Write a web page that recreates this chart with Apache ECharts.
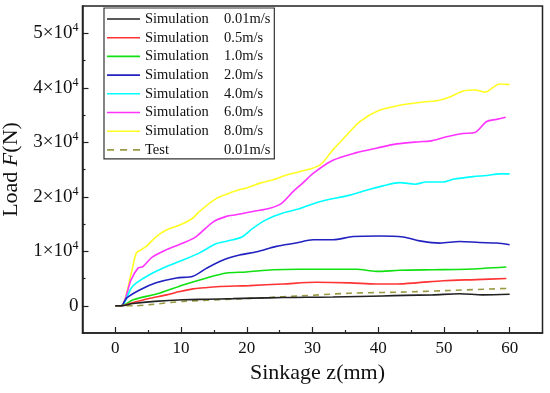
<!DOCTYPE html>
<html>
<head>
<meta charset="utf-8">
<script src="https://cdn.jsdelivr.net/npm/echarts@6/dist/echarts.min.js"></script>
<style>html,body{margin:0;padding:0;background:#fff}#c{width:550px;height:393px}</style>
</head>
<body>
<div id="c"></div>
<script>
// ---- data (z in mm, F in N) ----
const legendKinds = ['Simulation','Simulation','Simulation','Simulation','Simulation','Simulation','Simulation','Test'];
const legendSpeeds = ['0.01m/s','0.5m/s','1.0m/s','2.0m/s','4.0m/s','6.0m/s','8.0m/s','0.01m/s'];
const xTicks = [0,10,20,30,40,50,60];
const yTicks = [0,10000,20000,30000,40000,50000];

const zS001 = [0,0.9,2.7,6,10.3,14,17.9,21,25.5,29,33.1,37,40.7,44,48.3,52.4,55.9,60];
const fS001 = [0,0,400,800,1100,1200,1300,1400,1500,1550,1600,1700,1800,1900,2000,2200,2000,2100];

const zS05 = [0,0.9,2.7,5,7.8,9.8,11.8,13.5,15.4,20.4,25.5,30.6,35.7,39.7,42.8,45.8,49.9,54.9,59.5];
const fS05 = [0,0,600,1300,2000,2600,3100,3300,3500,3700,4000,4300,4200,4000,4000,4200,4600,4800,5000];

const zS10 = [0,0.9,2.7,6.7,10.3,13.9,16.9,19.9,24,28,33.1,36.7,39.7,43.3,48.3,53.4,59.5];
const fS10 = [0,0,1100,2300,3800,5100,6000,6200,6600,6700,6700,6700,6300,6500,6600,6700,7100];

const zS20 = [0,0.9,1.7,3.7,6.2,9.3,11.8,13.9,16.4,18.9,21.5,24.5,27.5,30.1,33.1,36.2,40.2,43.8,46.3,49.4,52.4,55.4,58,60];
const fS20 = [0,0,1400,2900,4200,5100,5400,6900,8400,9300,9900,10900,11500,12100,12100,12700,12800,12600,11900,11500,11800,11600,11500,11200];

const zS40 = [0,0.9,2.4,3.2,5.2,7.8,10.3,12.8,15.4,17.9,19.4,20.9,23,25.5,28,31.1,35.7,38.2,40.7,43.3,45.6,47.3,49.9,51.4,54.4,56.5,58.5,60];
const fS40 = [0,0,3200,4200,5700,7200,8400,9700,11400,12100,12700,14200,15800,17000,17800,19100,20300,21200,22000,22600,22300,22700,22700,23200,23700,23900,24200,24200];

const zS60 = [0,0.9,2.4,3.45,4.2,5.7,7.8,10.3,12.3,14.9,16.9,18.4,20.9,23.5,25.3,27,28.5,30.1,33.1,36.7,39.7,42.8,46.3,47.8,50.4,52.9,54.7,56.5,58,59.4];
const fS60 = [0,0,4800,6900,7200,9000,10300,11500,12700,15400,16400,16700,17300,17900,18800,20900,22500,24300,26700,28100,28900,29700,30100,30200,31000,31600,31800,33800,34200,34600];

const zS80 = [0,0.9,2.43,3.2,3.96,4.7,6.24,7.76,9.8,11.8,12.8,15.4,17.9,20.4,22,24,26,28.05,31.1,33.1,35.2,37.2,40,43.3,46.8,48.9,50.9,52.9,54.7,56.2,58.5,60];
const fS80 = [0,0,6000,9700,10300,10900,12700,13900,14800,16100,17300,19700,20900,21800,22500,23100,24000,24600,25800,28600,31300,33800,35800,36800,37400,37600,38300,39400,39600,39200,40700,40600];

const zTest = [0,3,5.2,10.3,17.9,23,28.05,35.7,43.3,50.9,60];
const fTest = [0,0,200,800,1200,1500,1800,2300,2500,2800,3200];

const seriesZ = [zS001,zS05,zS10,zS20,zS40,zS60,zS80,zTest];
const seriesF = [fS001,fS05,fS10,fS20,fS40,fS60,fS80,fTest];
const colors = ['#222222','#ff3333','#11e011','#2222c0','#00ffff','#ff33ff','#ffff22','#9a9a44'];

const FONT = "'Liberation Serif','Times New Roman',serif";
const names = legendKinds.map((k,i)=>k+' '+legendSpeeds[i]);
const SOLID_ICON = 'path://M0,0H33V1.6H0Z';
const DASH_ICON = 'path://M0,0H7V1.6H0Z M13,0H20V1.6H13Z M26,0H33V1.6H26Z';

const series = seriesZ.map((zs,i)=>({
  name: names[i],
  type: 'line',
  xAxisIndex: 0, yAxisIndex: 0,
  symbol: 'none',
  smooth: 0.3,
  z: 10 - i,
  lineStyle: {color: colors[i], width: 1.6, type: i===7 ? [6,5] : 'solid'},
  itemStyle: {color: colors[i]},
  data: zs.map((z,j)=>[z, seriesF[i][j]])
}));

const chart = echarts.init(document.getElementById('c'), null, {renderer:'canvas'});
chart.setOption({
  backgroundColor: '#fff',
  animation: false,
  textStyle: {fontFamily: FONT},
  grid: {left: 82.5, right: 7.5, top: 6, bottom: 60, show: true, borderColor: '#222', borderWidth: 1.5, outerBoundsMode: 'none'},
  legend: {
    orient: 'vertical', left: 104, top: 8,
    data: names.map((n,i)=>({name: n, icon: i===7 ? DASH_ICON : SOLID_ICON})),
    itemWidth: 33, itemHeight: 10, itemGap: 2.7,
    borderColor: '#333', borderWidth: 1.2, padding: [3,4,1,3],
    backgroundColor: '#fff',
    formatter: function(n){ const i = names.indexOf(n); return '{a|'+legendKinds[i]+'}{b|'+legendSpeeds[i]+'}'; },
    textStyle: {fontFamily: FONT, fontSize: 14.5, color: '#111', lineHeight: 16,
      rich: {a: {width: 79, fontSize: 14.5, fontFamily: FONT, color: '#111'}, b: {fontSize: 14.5, fontFamily: FONT, color: '#111'}}}
  },
  xAxis: [{
    type: 'value', min: -5, max: 65, position: 'bottom',
    splitLine: {show: false},
    axisLine: {show: true, onZero: false, lineStyle: {color: '#222', width: 1.5}},
    axisTick: {show: true, inside: true, length: 6, customValues: xTicks, lineStyle: {color: '#222', width: 1.2}},
    axisLabel: {customValues: xTicks, fontFamily: FONT, fontSize: 17, color: '#111', margin: 7},
    name: 'Sinkage z(mm)', nameLocation: 'middle', nameGap: 28,
    nameTextStyle: {fontFamily: FONT, fontSize: 22, color: '#111', padding: [0,0,0,10]}
  },{
    type: 'value', min: -5, max: 65, position: 'bottom',
    splitLine: {show: false},
    axisLine: {show: false, onZero: false},
    axisTick: {show: true, inside: true, length: 3, customValues: [5,15,25,35,45,55], lineStyle: {color: '#222', width: 1.2}},
    axisLabel: {show: false}
  }],
  yAxis: [{
    type: 'value', min: -5000, max: 55000, position: 'left',
    splitLine: {show: false},
    axisLine: {show: true, onZero: false, lineStyle: {color: '#222', width: 1.5}},
    axisTick: {show: true, inside: true, length: 6, customValues: yTicks, lineStyle: {color: '#222', width: 1.2}},
    axisLabel: {customValues: yTicks, margin: 4, fontFamily: FONT, color: '#111',
      formatter: function(v){ return v===0 ? '{b|0}' : '{b|'+(v/10000)+'×10}{s|4}'; },
      rich: {b: {fontFamily: FONT, fontSize: 19, color: '#111', lineHeight: 22},
             s: {fontFamily: FONT, fontSize: 12, color: '#111', verticalAlign: 'top', lineHeight: 12}}},
    name: '{n|Load }{i|F}{n|(N)}', nameLocation: 'middle', nameGap: 53,
    nameTextStyle: {fontFamily: FONT, fontSize: 22, color: '#111',
      rich: {n: {fontFamily: FONT, fontSize: 22, color: '#111'}, i: {fontFamily: FONT, fontSize: 22, fontStyle: 'italic', color: '#111'}}}
  },{
    type: 'value', min: -5000, max: 55000, position: 'left',
    splitLine: {show: false},
    axisLine: {show: false, onZero: false},
    axisTick: {show: true, inside: true, length: 3, customValues: [5000,15000,25000,35000,45000], lineStyle: {color: '#222', width: 1.2}},
    axisLabel: {show: false}
  }],
  series: series
});
</script>
</body>
</html>
